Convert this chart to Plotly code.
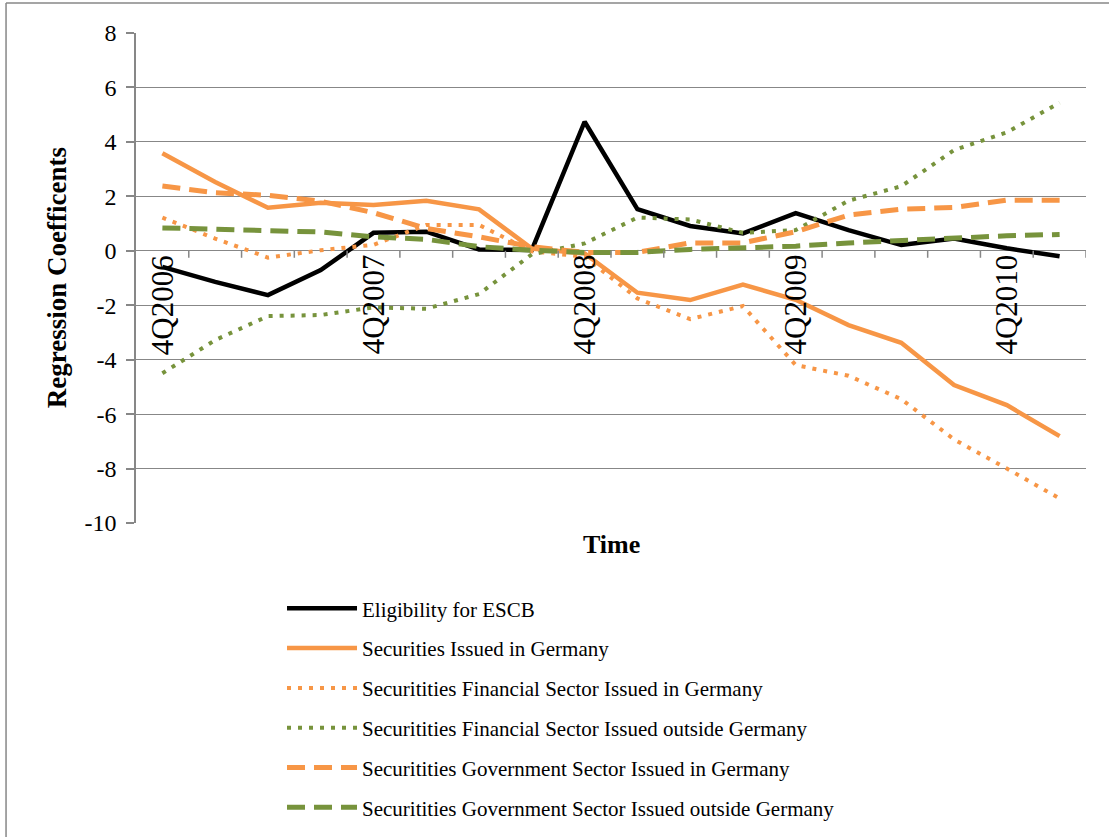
import plotly.graph_objects as go

quarters = ["4Q2006", "1Q2007", "2Q2007", "3Q2007", "4Q2007", "1Q2008", "2Q2008", "3Q2008",
            "4Q2008", "1Q2009", "2Q2009", "3Q2009", "4Q2009", "1Q2010", "2Q2010", "3Q2010",
            "4Q2010", "1Q2011"]

eligibility = [-0.59, -1.14, -1.63, -0.71, 0.66, 0.70, 0.05, 0.03, 4.74, 1.53, 0.91, 0.64,
               1.38, 0.76, 0.21, 0.45, 0.09, -0.20]
issued_germany = [3.58, 2.53, 1.58, 1.76, 1.68, 1.84, 1.52, 0.08, -0.10, -1.54, -1.81, -1.24,
                  -1.80, -2.73, -3.38, -4.93, -5.67, -6.81]
fin_germany = [1.22, 0.45, -0.25, 0.02, 0.22, 0.95, 0.95, -0.02, -0.22, -1.75, -2.51, -2.03,
               -4.20, -4.59, -5.45, -6.93, -8.00, -9.10]
fin_outside = [-4.50, -3.28, -2.40, -2.36, -2.08, -2.13, -1.59, -0.13, 0.27, 1.22, 1.15, 0.66,
               0.76, 1.84, 2.37, 3.70, 4.35, 5.44]
gov_germany = [2.38, 2.13, 2.04, 1.82, 1.40, 0.82, 0.51, 0.15, -0.06, -0.06, 0.29, 0.29,
               0.70, 1.31, 1.53, 1.59, 1.86, 1.86]
gov_outside = [0.84, 0.78, 0.76, 0.69, 0.51, 0.42, 0.15, 0.02, -0.06, -0.06, 0.05, 0.11,
               0.17, 0.29, 0.37, 0.49, 0.55, 0.60]

names = ["Eligibility for ESCB",
         "Securities Issued in Germany",
         "Securitities Financial Sector Issued in Germany",
         "Securitities Financial Sector Issued outside Germany",
         "Securitities Government Sector Issued in Germany",
         "Securitities Government Sector Issued outside Germany"]

y_ticks = [8, 6, 4, 2, 0, -2, -4, -6, -8, -10]

ORANGE = "#F79646"
GREEN = "#77933C"
GRID = "#878787"
FONT = "Liberation Serif"

series = [eligibility, issued_germany, fin_germany, fin_outside, gov_germany, gov_outside]
styles = [
    dict(color="black", width=4.5, dash="solid"),
    dict(color=ORANGE, width=4.5, dash="solid"),
    dict(color=ORANGE, width=4, dash="4px,7px"),
    dict(color=GREEN, width=4, dash="4px,7px"),
    dict(color=ORANGE, width=5, dash="18px,9px"),
    dict(color=GREEN, width=5, dash="18px,9px"),
]

fig = go.Figure()
for i, (nm, vals, st) in enumerate(zip(names, series, styles)):
    fig.add_trace(go.Scatter(x=quarters, y=vals, name=nm, mode="lines", line=st,
                             legendgroup=f"g{i}"))

# category labels drawn at the zero line, rotated
for q in quarters:
    if q.startswith("4Q"):
        fig.add_annotation(x=q, y=0, xref="x", yref="y", text=q, showarrow=False,
                           textangle=-90, yanchor="top", xanchor="center", yshift=-2,
                           font=dict(family=FONT, size=31, color="black"))

# tick marks on the zero axis at category boundaries
shapes = []
for k in range(1, len(quarters) + 1):
    shapes.append(dict(type="line", xref="x", yref="y", x0=k - 0.5, x1=k - 0.5,
                       ysizemode="pixel", yanchor=0, y0=0, y1=-7,
                       line=dict(color=GRID, width=1.5)))
# outer chart border (top and left)
shapes.append(dict(type="line", xref="paper", yref="paper", x0=-0.1368, x1=1.1,
                   y0=1.0612, y1=1.0612, line=dict(color=GRID, width=1.5)))
shapes.append(dict(type="line", xref="paper", yref="paper", x0=-0.1368, x1=-0.1368,
                   y0=1.0612, y1=-0.7, line=dict(color=GRID, width=1.5)))

fig.add_annotation(x=-0.083, y=0.5, xref="paper", yref="paper", text="<b>Regression Coefficents</b>",
                   showarrow=False, textangle=-90, xanchor="center", yanchor="middle",
                   font=dict(family=FONT, size=27, color="black"))
fig.add_annotation(x=0.501, y=-0.043, xref="paper", yref="paper", text="<b>Time</b>",
                   showarrow=False, xanchor="center", yanchor="middle",
                   font=dict(family=FONT, size=26, color="black"))

fig.update_layout(
    width=1109, height=837,
    margin=dict(l=136, r=23, t=33, b=314, autoexpand=False),
    paper_bgcolor="white", plot_bgcolor="white",
    font=dict(family=FONT, color="black"),
    shapes=shapes,
    showlegend=True,
    legend=dict(x=0.1537, y=-0.133, xanchor="left", yanchor="top", orientation="v",
                font=dict(family=FONT, size=21, color="black"),
                itemwidth=70, tracegroupgap=9.5, bgcolor="rgba(0,0,0,0)"),
    xaxis=dict(type="category", range=[-0.5, len(quarters) - 0.5], showticklabels=False,
               showgrid=False, zeroline=False, showline=False, ticks=""),
    yaxis=dict(range=[-10, 8], tickvals=y_ticks, ticktext=[str(v) for v in y_ticks],
               showgrid=True, gridcolor=GRID, gridwidth=1.3, zeroline=False,
               showline=True, linecolor=GRID, linewidth=1.5,
               ticks="outside", ticklen=8, tickcolor=GRID, tickwidth=1.5,
               ticklabelstandoff=5,
               tickfont=dict(family=FONT, size=24, color="black")),
)

fig.write_html("out.html", config={"displayModeBar": False},
               post_script="document.body.style.margin='0';document.body.style.overflow='hidden';")
